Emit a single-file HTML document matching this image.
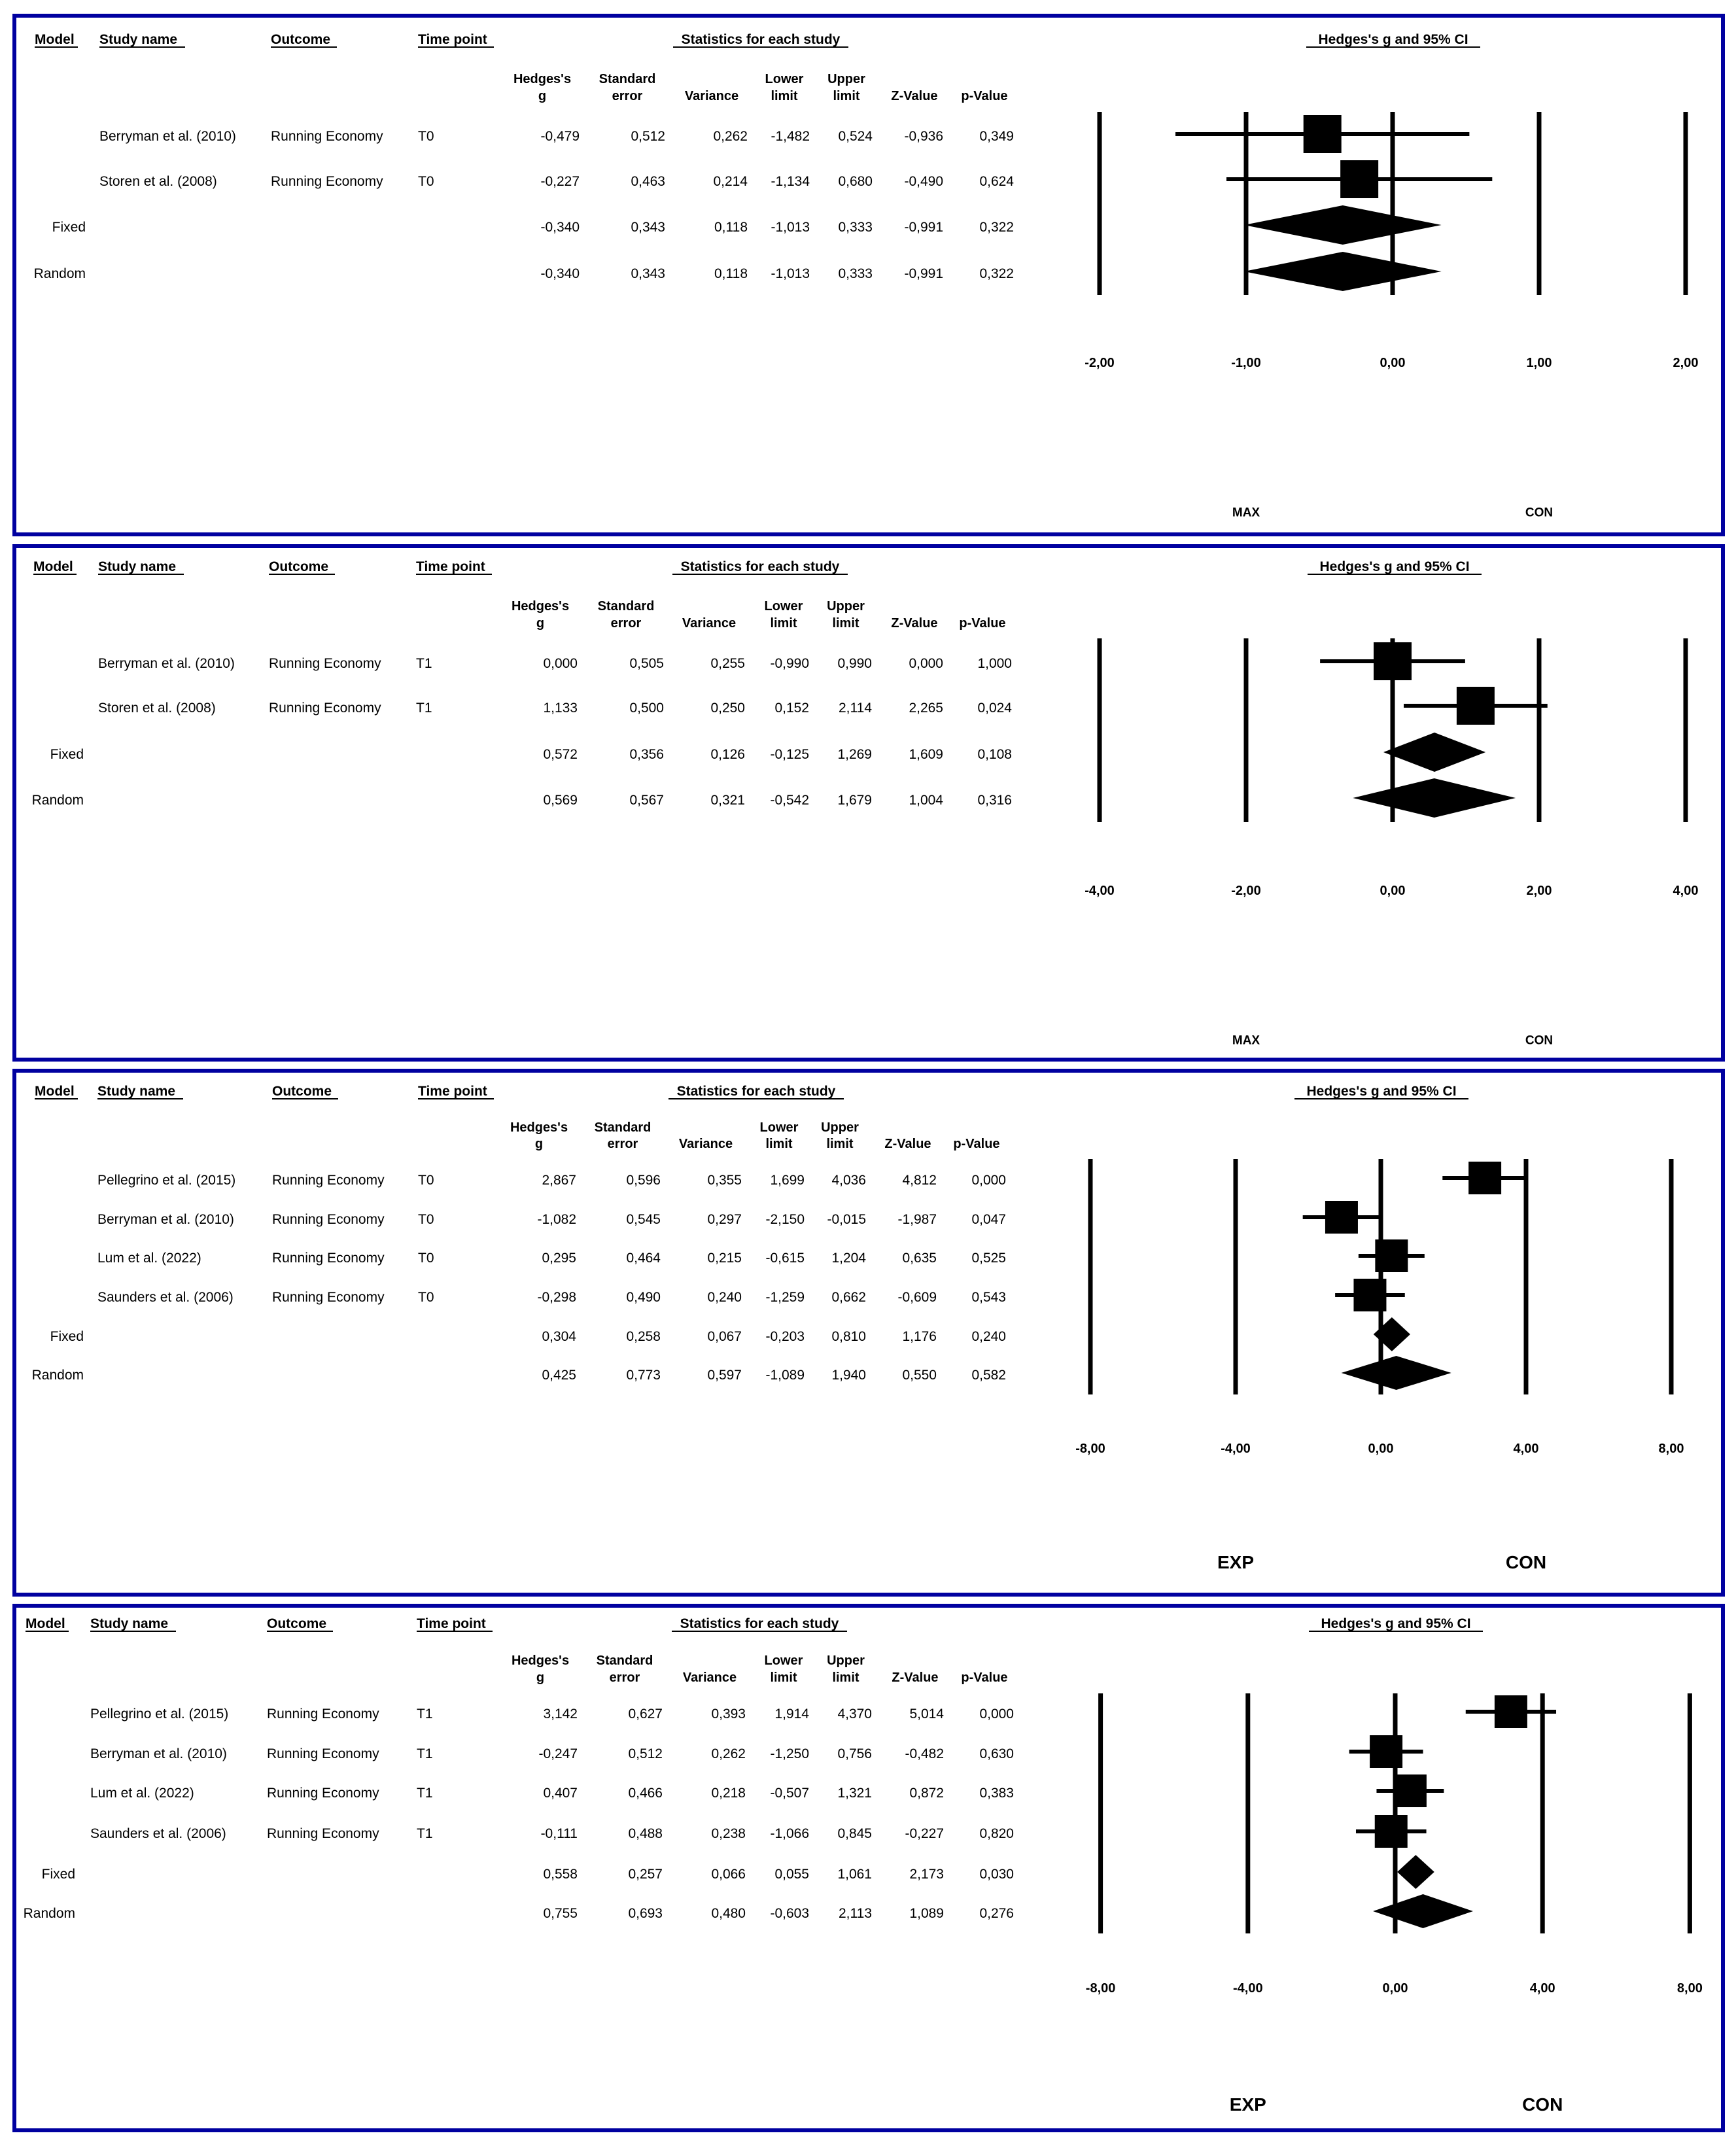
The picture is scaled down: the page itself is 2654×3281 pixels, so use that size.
<!DOCTYPE html>
<html><head><meta charset="utf-8"><title>Forest plots</title>
<style>
html,body{margin:0;padding:0;background:#fff;}
svg{display:block;}
text{font-family:"Liberation Sans",Arial,sans-serif;fill:#000;}
</style></head>
<body>
<svg id="chart" xmlns="http://www.w3.org/2000/svg" width="2654" height="3281" viewBox="0 0 2654 3281"></svg>
<script>
// ---------- data ----------
const p1Studies = ["Berryman et al. (2010)", "Storen et al. (2008)"];
const p1Time = ["T0", "T0"];
const p1G = [-0.479, -0.227, -0.340, -0.340];
const p1SE = [0.512, 0.463, 0.343, 0.343];
const p1Var = [0.262, 0.214, 0.118, 0.118];
const p1Lower = [-1.482, -1.134, -1.013, -1.013];
const p1Upper = [0.524, 0.680, 0.333, 0.333];
const p1Z = [-0.936, -0.490, -0.991, -0.991];
const p1P = [0.349, 0.624, 0.322, 0.322];
const p1Ticks = [-2, -1, 0, 1, 2];

const p2Studies = ["Berryman et al. (2010)", "Storen et al. (2008)"];
const p2Time = ["T1", "T1"];
const p2G = [0.000, 1.133, 0.572, 0.569];
const p2SE = [0.505, 0.500, 0.356, 0.567];
const p2Var = [0.255, 0.250, 0.126, 0.321];
const p2Lower = [-0.990, 0.152, -0.125, -0.542];
const p2Upper = [0.990, 2.114, 1.269, 1.679];
const p2Z = [0.000, 2.265, 1.609, 1.004];
const p2P = [1.000, 0.024, 0.108, 0.316];
const p2Ticks = [-4, -2, 0, 2, 4];

const p3Studies = ["Pellegrino et al. (2015)", "Berryman et al. (2010)", "Lum et al. (2022)", "Saunders et al. (2006)"];
const p3Time = ["T0", "T0", "T0", "T0"];
const p3G = [2.867, -1.082, 0.295, -0.298, 0.304, 0.425];
const p3SE = [0.596, 0.545, 0.464, 0.490, 0.258, 0.773];
const p3Var = [0.355, 0.297, 0.215, 0.240, 0.067, 0.597];
const p3Lower = [1.699, -2.150, -0.615, -1.259, -0.203, -1.089];
const p3Upper = [4.036, -0.015, 1.204, 0.662, 0.810, 1.940];
const p3Z = [4.812, -1.987, 0.635, -0.609, 1.176, 0.550];
const p3P = [0.000, 0.047, 0.525, 0.543, 0.240, 0.582];
const p3Ticks = [-8, -4, 0, 4, 8];

const p4Studies = ["Pellegrino et al. (2015)", "Berryman et al. (2010)", "Lum et al. (2022)", "Saunders et al. (2006)"];
const p4Time = ["T1", "T1", "T1", "T1"];
const p4G = [3.142, -0.247, 0.407, -0.111, 0.558, 0.755];
const p4SE = [0.627, 0.512, 0.466, 0.488, 0.257, 0.693];
const p4Var = [0.393, 0.262, 0.218, 0.238, 0.066, 0.480];
const p4Lower = [1.914, -1.250, -0.507, -1.066, 0.055, -0.603];
const p4Upper = [4.370, 0.756, 1.321, 0.845, 1.061, 2.113];
const p4Z = [5.014, -0.482, 0.872, -0.227, 2.173, 1.089];
const p4P = [0.000, 0.630, 0.383, 0.820, 0.030, 0.276];
const p4Ticks = [-8, -4, 0, 4, 8];

// ---------- layout ----------
const NS = "http://www.w3.org/2000/svg";
const svg = document.getElementById("chart");
function mk(tag, attrs, parent) {
  const e = document.createElementNS(NS, tag);
  for (const k in attrs) e.setAttribute(k, attrs[k]);
  (parent || svg).appendChild(e);
  return e;
}
function txt(parent, x, y, s, size, bold, anchor) {
  const t = mk("text", {x: x, y: y, "font-size": size, "font-weight": bold ? "bold" : "normal", "text-anchor": anchor || "start"}, parent);
  t.textContent = s;
  return t;
}
function fmt(v) { return v.toFixed(3).replace(".", ","); }
function fmt2(v) { return v.toFixed(2).replace(".", ","); }

const panels = [
  {id: 1, studies: p1Studies, time: p1Time, g: p1G, se: p1SE, vr: p1Var, lo: p1Lower, up: p1Upper, z: p1Z, p: p1P, ticks: p1Ticks,
   top: 24, bottom: 817, modelX: 53, studyX: 152, outX: 414, timeX: 639, modelR: 131,
   cols: [886, 1017, 1143, 1238, 1334, 1442, 1550], statsC: 1163, titleC: 2130,
   hy: 60, ch1: 120, ch2: 146, rows: [208, 277, 347, 418],
   center: 2129, unit: 224, ly1: 171, ly2: 451, tly: 554, bly: 783, blabels: ["MAX", "CON"], blSize: 19, sq: 58, dh: 30},
  {id: 2, studies: p2Studies, time: p2Time, g: p2G, se: p2SE, vr: p2Var, lo: p2Lower, up: p2Upper, z: p2Z, p: p2P, ticks: p2Ticks,
   top: 835, bottom: 1620, modelX: 51, studyX: 150, outX: 411, timeX: 636, modelR: 128,
   cols: [883, 1015, 1139, 1237, 1333, 1442, 1547], statsC: 1162, titleC: 2132,
   hy: 866, ch1: 926, ch2: 952, rows: [1014, 1082, 1153, 1223],
   center: 2129, unit: 112, ly1: 976, ly2: 1257, tly: 1361, bly: 1590, blabels: ["MAX", "CON"], blSize: 19, sq: 58, dh: 30},
  {id: 3, studies: p3Studies, time: p3Time, g: p3G, se: p3SE, vr: p3Var, lo: p3Lower, up: p3Upper, z: p3Z, p: p3P, ticks: p3Ticks,
   top: 1637, bottom: 2438, modelX: 53, studyX: 149, outX: 416, timeX: 639, modelR: 128,
   cols: [881, 1010, 1134, 1230, 1324, 1432, 1538], statsC: 1156, titleC: 2112,
   hy: 1668, ch1: 1723, ch2: 1748, rows: [1804, 1864, 1923, 1983, 2043, 2102],
   center: 2111, unit: 55.5, ly1: 1772, ly2: 2132, tly: 2214, bly: 2388, blabels: ["EXP", "CON"], blSize: 28, sq: 50, dh: 26},
  {id: 4, studies: p4Studies, time: p4Time, g: p4G, se: p4SE, vr: p4Var, lo: p4Lower, up: p4Upper, z: p4Z, p: p4P, ticks: p4Ticks,
   top: 2455, bottom: 3257, modelX: 39, studyX: 138, outX: 408, timeX: 637, modelR: 115,
   cols: [883, 1013, 1140, 1237, 1333, 1443, 1550], statsC: 1161, titleC: 2134,
   hy: 2482, ch1: 2538, ch2: 2564, rows: [2620, 2681, 2741, 2803, 2865, 2925],
   center: 2133, unit: 56.3, ly1: 2589, ly2: 2956, tly: 3039, bly: 3217, blabels: ["EXP", "CON"], blSize: 28, sq: 50, dh: 26}
];

const colHdr1 = ["Hedges's", "Standard", "", "Lower", "Upper", "", ""];
const colHdr2 = ["g", "error", "Variance", "limit", "limit", "Z-Value", "p-Value"];
const colHdrOff = [57, 58, 55, 39, 40, 44, 45];
const FS = 21;

panels.forEach(P => {
  const g = mk("g", {});
  
  

  const border = mk("rect", {x: 22, y: P.top, width: 2612, height: P.bottom - P.top, fill: "none", stroke: "#0000a0", "stroke-width": 6}, g);
  
  

  // header labels with underlines
  const hb = P.hy + 7;
  const heads = [["Model", P.modelX, 66], ["Study name", P.studyX, 131], ["Outcome", P.outX, 101], ["Time point", P.timeX, 116]];
  heads.forEach(h => {
    const t = txt(g, h[1], hb, h[0], FS, true);
    
    
    mk("line", {x1: h[1], x2: h[1] + h[2], y1: hb + 5, y2: hb + 5, stroke: "#000", "stroke-width": 2}, g);
  });
  const sh = txt(g, P.statsC, hb, "Statistics for each study", FS, true, "middle");
  
  
  mk("line", {x1: P.statsC - 134, x2: P.statsC + 134, y1: hb + 5, y2: hb + 5, stroke: "#000", "stroke-width": 2}, g);
  const th = txt(g, P.titleC, hb, "Hedges's g and 95% CI", FS, true, "middle");
  
  
  mk("line", {x1: P.titleC - 133, x2: P.titleC + 133, y1: hb + 5, y2: hb + 5, stroke: "#000", "stroke-width": 2}, g);

  // column headers
  P.cols.forEach((cx, i) => {
    const c = cx - colHdrOff[i];
    if (colHdr1[i]) {
      const t = txt(g, c, P.ch1 + 7, colHdr1[i], FS - 1, true, "middle");
      
      
    }
    const t2 = txt(g, c, P.ch2 + 7, colHdr2[i], FS - 1, true, "middle");
    
    
  });

  // rows
  const nS = P.studies.length;
  const nRows = nS + 2;
  for (let r = 0; r < nRows; r++) {
    const yb = P.rows[r] + 7;
    if (r < nS) {
      const a = txt(g, P.studyX, yb, P.studies[r], FS);
      
      
      const b = txt(g, P.outX, yb, "Running Economy", FS);
      
      
      const c = txt(g, P.timeX, yb, P.time[r], FS);
      
      
    } else {
      const m = txt(g, P.modelR, yb, r === nS ? "Fixed" : "Random", FS, false, "end");
      
      
    }
    const vals = [P.g[r], P.se[r], P.vr[r], P.lo[r], P.up[r], P.z[r], P.p[r]];
    vals.forEach((v, i) => {
      const t = txt(g, P.cols[i], yb, fmt(v), FS, false, "end");
      
      
    });
  }

  // axis
  const X = v => P.center + v * P.unit;
  P.ticks.forEach(tv => {
    const l = mk("line", {x1: X(tv), x2: X(tv), y1: P.ly1, y2: P.ly2, stroke: "#000", "stroke-width": 7}, g);
    
    
    const t = txt(g, X(tv), P.tly + 7, fmt2(tv), FS - 1, true, "middle");
    
    
  });
  const bl1 = txt(g, X(P.ticks[1]), P.bly + P.blSize * 0.35, P.blabels[0], P.blSize, true, "middle");
  
  
  const bl2 = txt(g, X(P.ticks[3]), P.bly + P.blSize * 0.35, P.blabels[1], P.blSize, true, "middle");
  
  

  // marks
  for (let r = 0; r < nRows; r++) {
    const y = P.rows[r] - 3;
    if (r < nS) {
      const ci = mk("line", {x1: X(P.lo[r]), x2: X(P.up[r]), y1: y, y2: y, stroke: "#000", "stroke-width": 6}, g);
      
      
      const s = P.sq;
      const sqr = mk("rect", {x: X(P.g[r]) - s / 2, y: y - s / 2, width: s, height: s, fill: "#000"}, g);
      
      
    } else {
      const pts = [[X(P.lo[r]), y], [X(P.g[r]), y - P.dh], [X(P.up[r]), y], [X(P.g[r]), y + P.dh]].map(p => p.join(",")).join(" ");
      const d = mk("polygon", {points: pts, fill: "#000"}, g);
      
      
    }
  }
});
</script>
</body></html>
